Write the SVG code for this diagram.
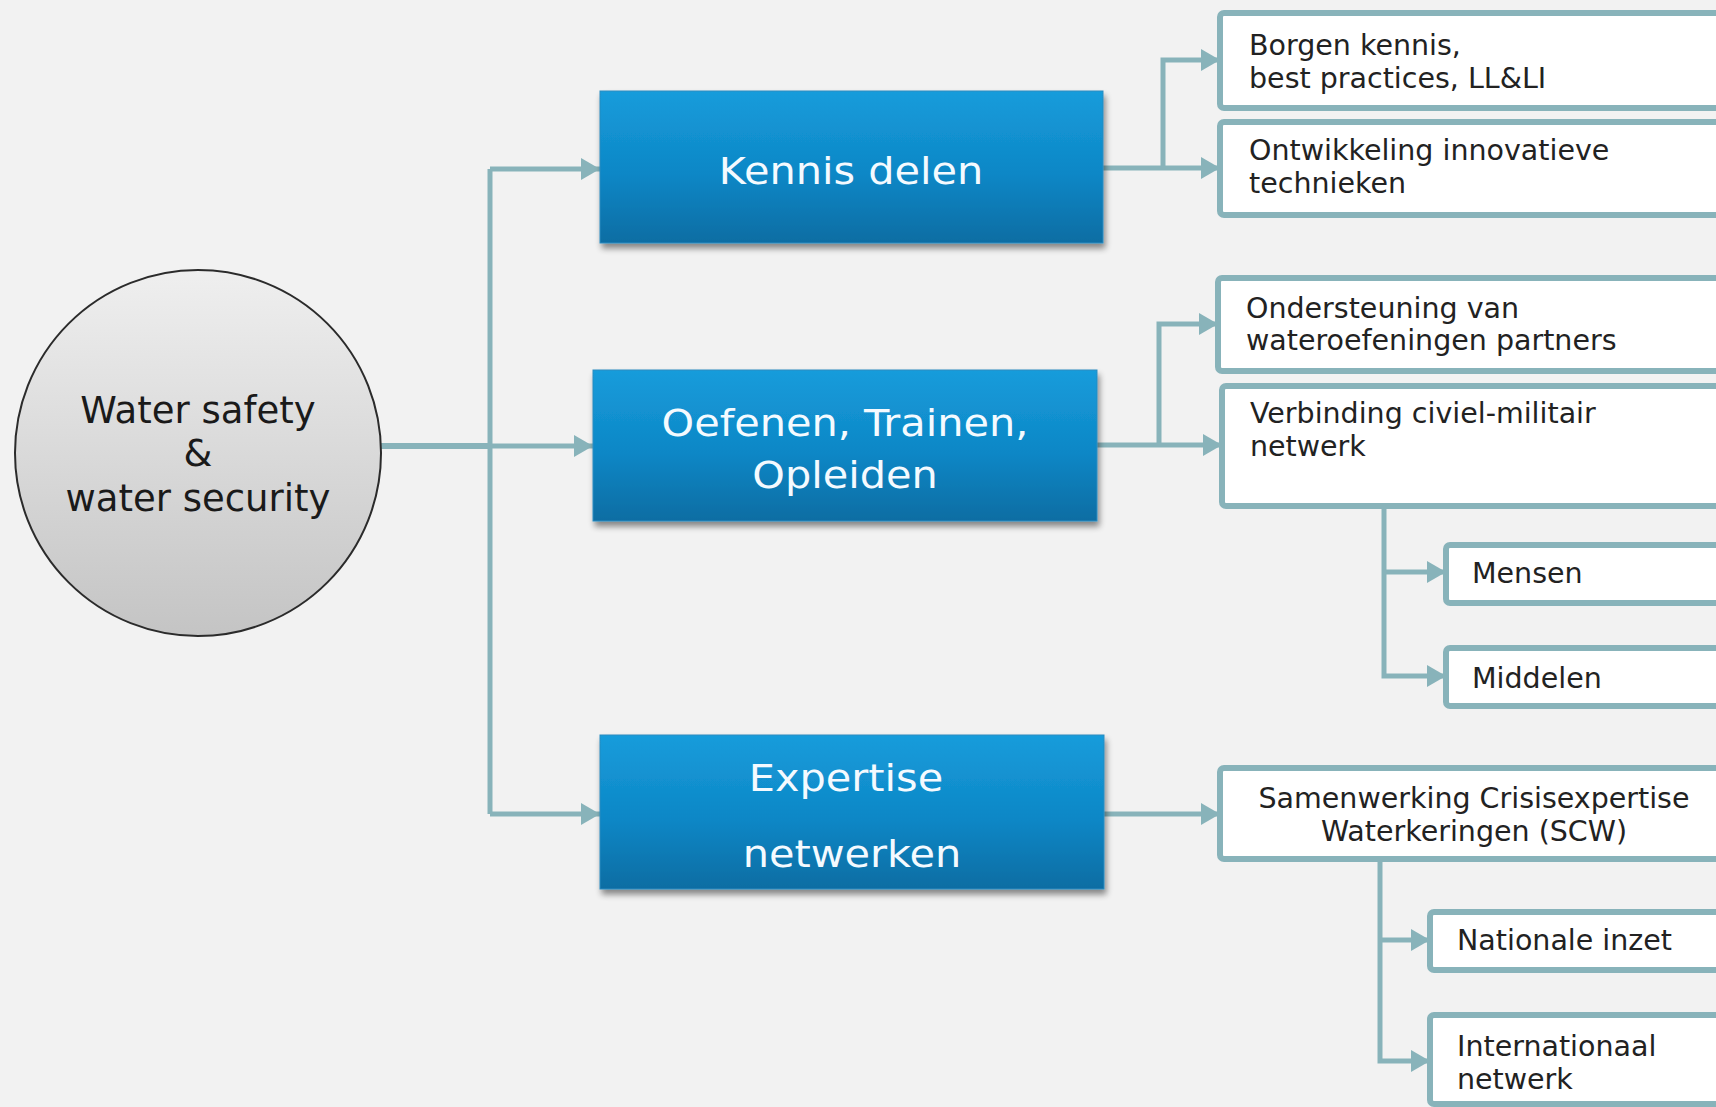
<svg xmlns="http://www.w3.org/2000/svg" width="1716" height="1107" viewBox="0 0 1716 1107">
  <defs>
    <linearGradient id="blueGrad" x1="0" y1="0" x2="0" y2="1">
      <stop offset="0" stop-color="#169cdb"/>
      <stop offset="0.55" stop-color="#0e87c6"/>
      <stop offset="1" stop-color="#0a6da3"/>
    </linearGradient>
    <linearGradient id="greyGrad" x1="0" y1="0" x2="0" y2="1">
      <stop offset="0" stop-color="#efefef"/>
      <stop offset="1" stop-color="#c4c4c4"/>
    </linearGradient>
    <filter id="shadow" x="-10%" y="-10%" width="120%" height="130%">
      <feGaussianBlur in="SourceAlpha" stdDeviation="3"/>
      <feOffset dx="2" dy="5" result="b"/>
      <feComponentTransfer><feFuncA type="linear" slope="0.45"/></feComponentTransfer>
      <feMerge><feMergeNode/><feMergeNode in="SourceGraphic"/></feMerge>
    </filter>
    <marker id="arrow" markerUnits="userSpaceOnUse" markerWidth="20" markerHeight="22" refX="19" refY="11" orient="auto">
      <path d="M0,0 L19,11 L0,22 Z" fill="#88b3ba"/>
    </marker>
    <style>
      .conn { fill: none; stroke: #88b3ba; stroke-width: 5; }
      .blue { fill: url(#blueGrad); stroke: #2a8cc0; stroke-width: 1; filter: url(#shadow); }
      .btxt { font-family: "DejaVu Sans", Verdana, sans-serif; font-size: 37px; fill: #f4faff; text-anchor: middle; }
      .sub { fill: #ffffff; stroke: #88b3ba; stroke-width: 6; }
      .stxt { font-family: "DejaVu Sans", Verdana, sans-serif; font-size: 28.5px; fill: #222222; }
      .ctxt { font-family: "DejaVu Sans", Verdana, sans-serif; font-size: 37px; fill: #1a1a1a; text-anchor: middle; }
    </style>
  </defs>

  <rect x="0" y="0" width="1716" height="1107" fill="#f2f2f2"/>

  <g id="connectors">
    <line class="conn" x1="381" y1="446" x2="490" y2="446" style="stroke-width:6"/>
    <line class="conn" x1="490" y1="169" x2="490" y2="814"/>
    <path class="conn" d="M490,169 L600,169" marker-end="url(#arrow)"/>
    <path class="conn" d="M490,446 L593,446" marker-end="url(#arrow)"/>
    <path class="conn" d="M490,814 L600,814" marker-end="url(#arrow)"/>

    <path class="conn" d="M1103,168 L1220,168" marker-end="url(#arrow)"/>
    <path class="conn" d="M1163,168 L1163,60 L1220,60" marker-end="url(#arrow)"/>

    <path class="conn" d="M1097,445 L1222,445" marker-end="url(#arrow)"/>
    <path class="conn" d="M1159,445 L1159,324 L1218,324" marker-end="url(#arrow)"/>

    <path class="conn" d="M1384,506 L1384,676 L1446,676" marker-end="url(#arrow)"/>
    <path class="conn" d="M1384,572 L1446,572" marker-end="url(#arrow)"/>

    <path class="conn" d="M1104,814 L1220,814" marker-end="url(#arrow)"/>
    <path class="conn" d="M1380,859 L1380,1061 L1430,1061" marker-end="url(#arrow)"/>
    <path class="conn" d="M1380,940 L1430,940" marker-end="url(#arrow)"/>
  </g>

  <g id="root">
    <circle cx="198" cy="453" r="183" fill="url(#greyGrad)" stroke="#2b2b2b" stroke-width="2"/>
    <text class="ctxt" x="198" y="423">Water safety</text>
    <text class="ctxt" x="198" y="466">&amp;</text>
    <text class="ctxt" x="198" y="511">water security</text>
  </g>

  <g id="kennis-delen">
    <rect class="blue" x="600" y="91" width="503" height="152"/>
    <text class="btxt" transform="translate(851,184) scale(1.12,1)">Kennis delen</text>
  </g>

  <g id="oefenen">
    <rect class="blue" x="593" y="370" width="504" height="151"/>
    <text class="btxt" transform="translate(845,436) scale(1.12,1)">Oefenen, Trainen,</text>
    <text class="btxt" transform="translate(845,488) scale(1.12,1)">Opleiden</text>
  </g>

  <g id="expertise">
    <rect class="blue" x="600" y="735" width="504" height="154"/>
    <text class="btxt" transform="translate(846,791) scale(1.12,1)">Expertise</text>
    <text class="btxt" transform="translate(852,867) scale(1.12,1)">netwerken</text>
  </g>

  <g id="borgen">
    <rect class="sub" x="1220" y="13" width="520" height="95" rx="4"/>
    <text class="stxt" x="1249" y="55">Borgen kennis,</text>
    <text class="stxt" x="1249" y="88">best practices, LL&amp;LI</text>
  </g>

  <g id="ontwikkeling">
    <rect class="sub" x="1220" y="122" width="520" height="93" rx="4"/>
    <text class="stxt" x="1249" y="160">Ontwikkeling innovatieve</text>
    <text class="stxt" x="1249" y="193">technieken</text>
  </g>

  <g id="ondersteuning">
    <rect class="sub" x="1218" y="278" width="520" height="93" rx="4"/>
    <text class="stxt" x="1246" y="318">Ondersteuning van</text>
    <text class="stxt" x="1246" y="350">wateroefeningen partners</text>
  </g>

  <g id="verbinding">
    <rect class="sub" x="1222" y="386" width="520" height="120" rx="4"/>
    <text class="stxt" x="1250" y="423">Verbinding civiel-militair</text>
    <text class="stxt" x="1250" y="456">netwerk</text>
  </g>

  <g id="mensen">
    <rect class="sub" x="1446" y="545" width="300" height="58" rx="4"/>
    <text class="stxt" x="1472" y="583">Mensen</text>
  </g>

  <g id="middelen">
    <rect class="sub" x="1446" y="648" width="300" height="58" rx="4"/>
    <text class="stxt" x="1472" y="688">Middelen</text>
  </g>

  <g id="samenwerking">
    <rect class="sub" x="1220" y="768" width="520" height="91" rx="4"/>
    <text class="stxt" x="1474" y="808" text-anchor="middle">Samenwerking Crisisexpertise</text>
    <text class="stxt" x="1474" y="841" text-anchor="middle">Waterkeringen (SCW)</text>
  </g>

  <g id="nationale">
    <rect class="sub" x="1430" y="912" width="310" height="58" rx="4"/>
    <text class="stxt" x="1457" y="950">Nationale inzet</text>
  </g>

  <g id="internationaal">
    <rect class="sub" x="1430" y="1015" width="310" height="89" rx="4"/>
    <text class="stxt" x="1457" y="1056">Internationaal</text>
    <text class="stxt" x="1457" y="1089">netwerk</text>
  </g>
</svg>
